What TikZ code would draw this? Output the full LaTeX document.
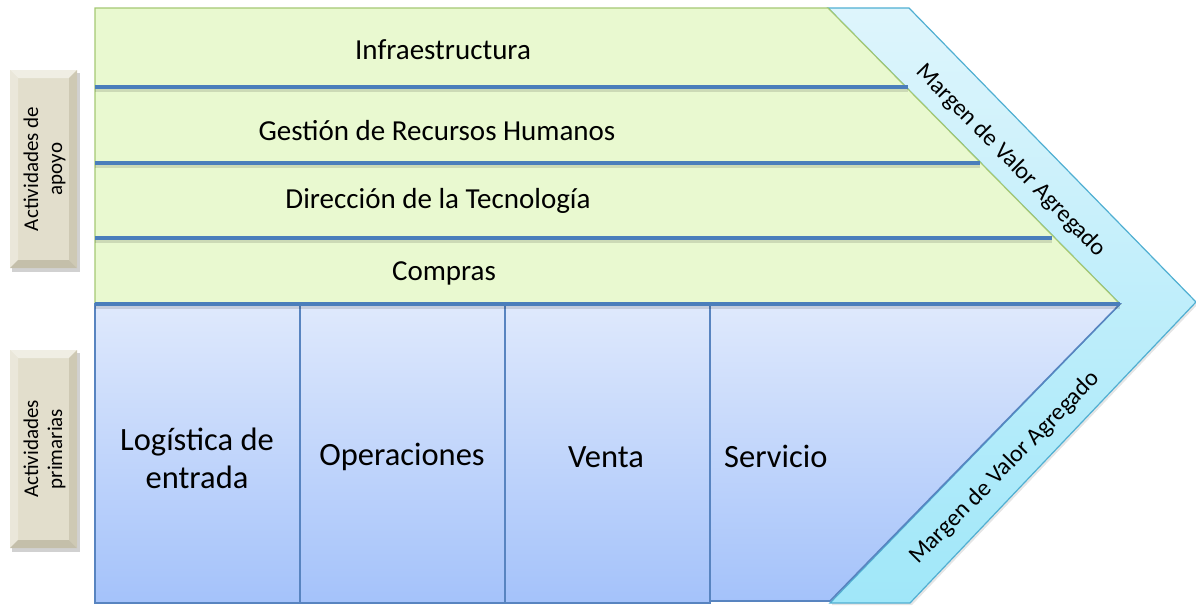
\documentclass[tikz,border=0pt]{standalone}
\usepackage{fontspec}
\setmainfont{Carlito}
\usetikzlibrary{calc}
\definecolor{greenfill}{RGB}{233,249,208}
\definecolor{greenedge}{RGB}{165,200,115}
\definecolor{cyantop}{RGB}{222,245,252}
\definecolor{cyanbot}{RGB}{160,231,249}
\definecolor{cyanedge}{RGB}{80,175,210}
\definecolor{bluetop}{RGB}{223,233,252}
\definecolor{bluebot}{RGB}{164,194,250}
\definecolor{blueedge}{RGB}{88,132,192}
\definecolor{sepline}{RGB}{74,126,187}
\definecolor{bevface}{RGB}{226,222,204}
\definecolor{bevlight}{RGB}{240,238,228}
\definecolor{bevlight2}{RGB}{234,231,218}
\definecolor{bevdark}{RGB}{206,201,180}
\definecolor{bevdark2}{RGB}{196,191,170}
\tikzset{
  sep/.style={line width=3.5pt, sepline},
  sepshadow/.style={line width=3pt, black, opacity=0.12},
  coltext/.style={font=\fontsize{32.5}{38}\selectfont, align=center, text=black},
  rowtext/.style={font=\fontsize{29}{34}\selectfont, text=black},
  margintext/.style={font=\fontsize{24}{28}\selectfont, text=black},
  sidetext/.style={font=\fontsize{21}{24}\selectfont, align=center, text=black},
  column/.style={draw=blueedge, line width=1.6pt, top color=bluetop, bottom color=bluebot},
}
\newcommand{\bevelbox}[5]{% name, x1, y1, x2, y2
  \fill[black, opacity=0.18] (#2+2,#3+3) rectangle (#4+3,#5+4);
  \fill[bevface] (#2,#3) rectangle (#4,#5);
  \fill[bevlight] (#2,#3) -- (#4,#3) -- (#4-8,#3+8) -- (#2+8,#3+8) -- cycle;
  \fill[bevlight2] (#2,#3) -- (#2+8,#3+8) -- (#2+8,#5-8) -- (#2,#5) -- cycle;
  \fill[bevdark] (#4,#3) -- (#4,#5) -- (#4-8,#5-8) -- (#4-8,#3+8) -- cycle;
  \fill[bevdark2] (#2,#5) -- (#4,#5) -- (#4-8,#5-8) -- (#2+8,#5-8) -- cycle;
  \coordinate (#1) at ($(#2,#3)!0.5!(#4,#5)$);
}
\begin{document}
\begin{tikzpicture}[x=1pt,y=-1pt]
\useasboundingbox (0,0) rectangle (1196,605);

% chevron band
\fill[black,opacity=0.10] (830,10) -- (911,10) -- (1198,304) -- (912,605) -- (832,605) -- cycle;
\path[draw=cyanedge, line width=1.2pt, top color=cyantop, bottom color=cyanbot]
  (828,8) -- (909,8) -- (1196,302) -- (910,603) -- (830,603) -- (1120,304) -- cycle;

% green support area
\path[fill=greenfill, draw=greenedge, line width=1.2pt]
  (95,8) -- (828,8) -- (1120,304) -- (95,304) -- cycle;

% primary columns
\path[column] (95,304) rectangle (300,603);
\path[column] (300,304) rectangle (505,603);
\path[column] (505,304) rectangle (710,603);
\path[column] (710,304) -- (1120,304) -- (830,601) -- (710,601) -- cycle;

% separator lines with shadows
\coordinate (l1a) at (95,87);  \coordinate (l1b) at (908,87);
\coordinate (l2a) at (95,163); \coordinate (l2b) at (980,163);
\coordinate (l3a) at (95,238); \coordinate (l3b) at (1052,238);
\coordinate (l4a) at (95,304); \coordinate (l4b) at (1120,304);
\foreach \a/\b in {l1a/l1b,l2a/l2b,l3a/l3b,l4a/l4b}{
  \draw[sepshadow] ([yshift=-3pt]\a) -- ([yshift=-3pt]\b);
  \draw[sep] (\a) -- (\b);
}

% row texts
\node[rowtext] (infra) at (443,50) {Infraestructura};
\node[rowtext] (rrhh) at (437,131) {Gestión de Recursos Humanos};
\node[rowtext] (tecno) at (438,201) {Dirección de la Tecnología};
\node[rowtext] (compras) at (444,273) {Compras};

% column texts
\node[coltext] (logi) at (197,458) {Logística de\\entrada};
\node[coltext] (oper) at (402,457) {Operaciones};
\node[coltext] (venta) at (606,457) {Venta};
\node[coltext, anchor=west, inner sep=0pt] (serv) at (724,456) {Servicio};

% margin texts
\node[margintext, rotate=-45.5] (margen1) at (1011,161) {Margen de Valor Agregado};
\node[margintext, rotate=45.5] (margen2) at (1005,468) {Margen de Valor Agregado};

% side boxes
\bevelbox{apoyo}{10}{70}{77}{268}
\node[sidetext, rotate=90] (apoyotext) at ([xshift=1pt]apoyo) {Actividades de\\apoyo};
\bevelbox{prim}{10}{350}{77}{548}
\node[sidetext, rotate=90] (primtext) at ([xshift=1pt]prim) {Actividades\\primarias};
\end{tikzpicture}
\end{document}
